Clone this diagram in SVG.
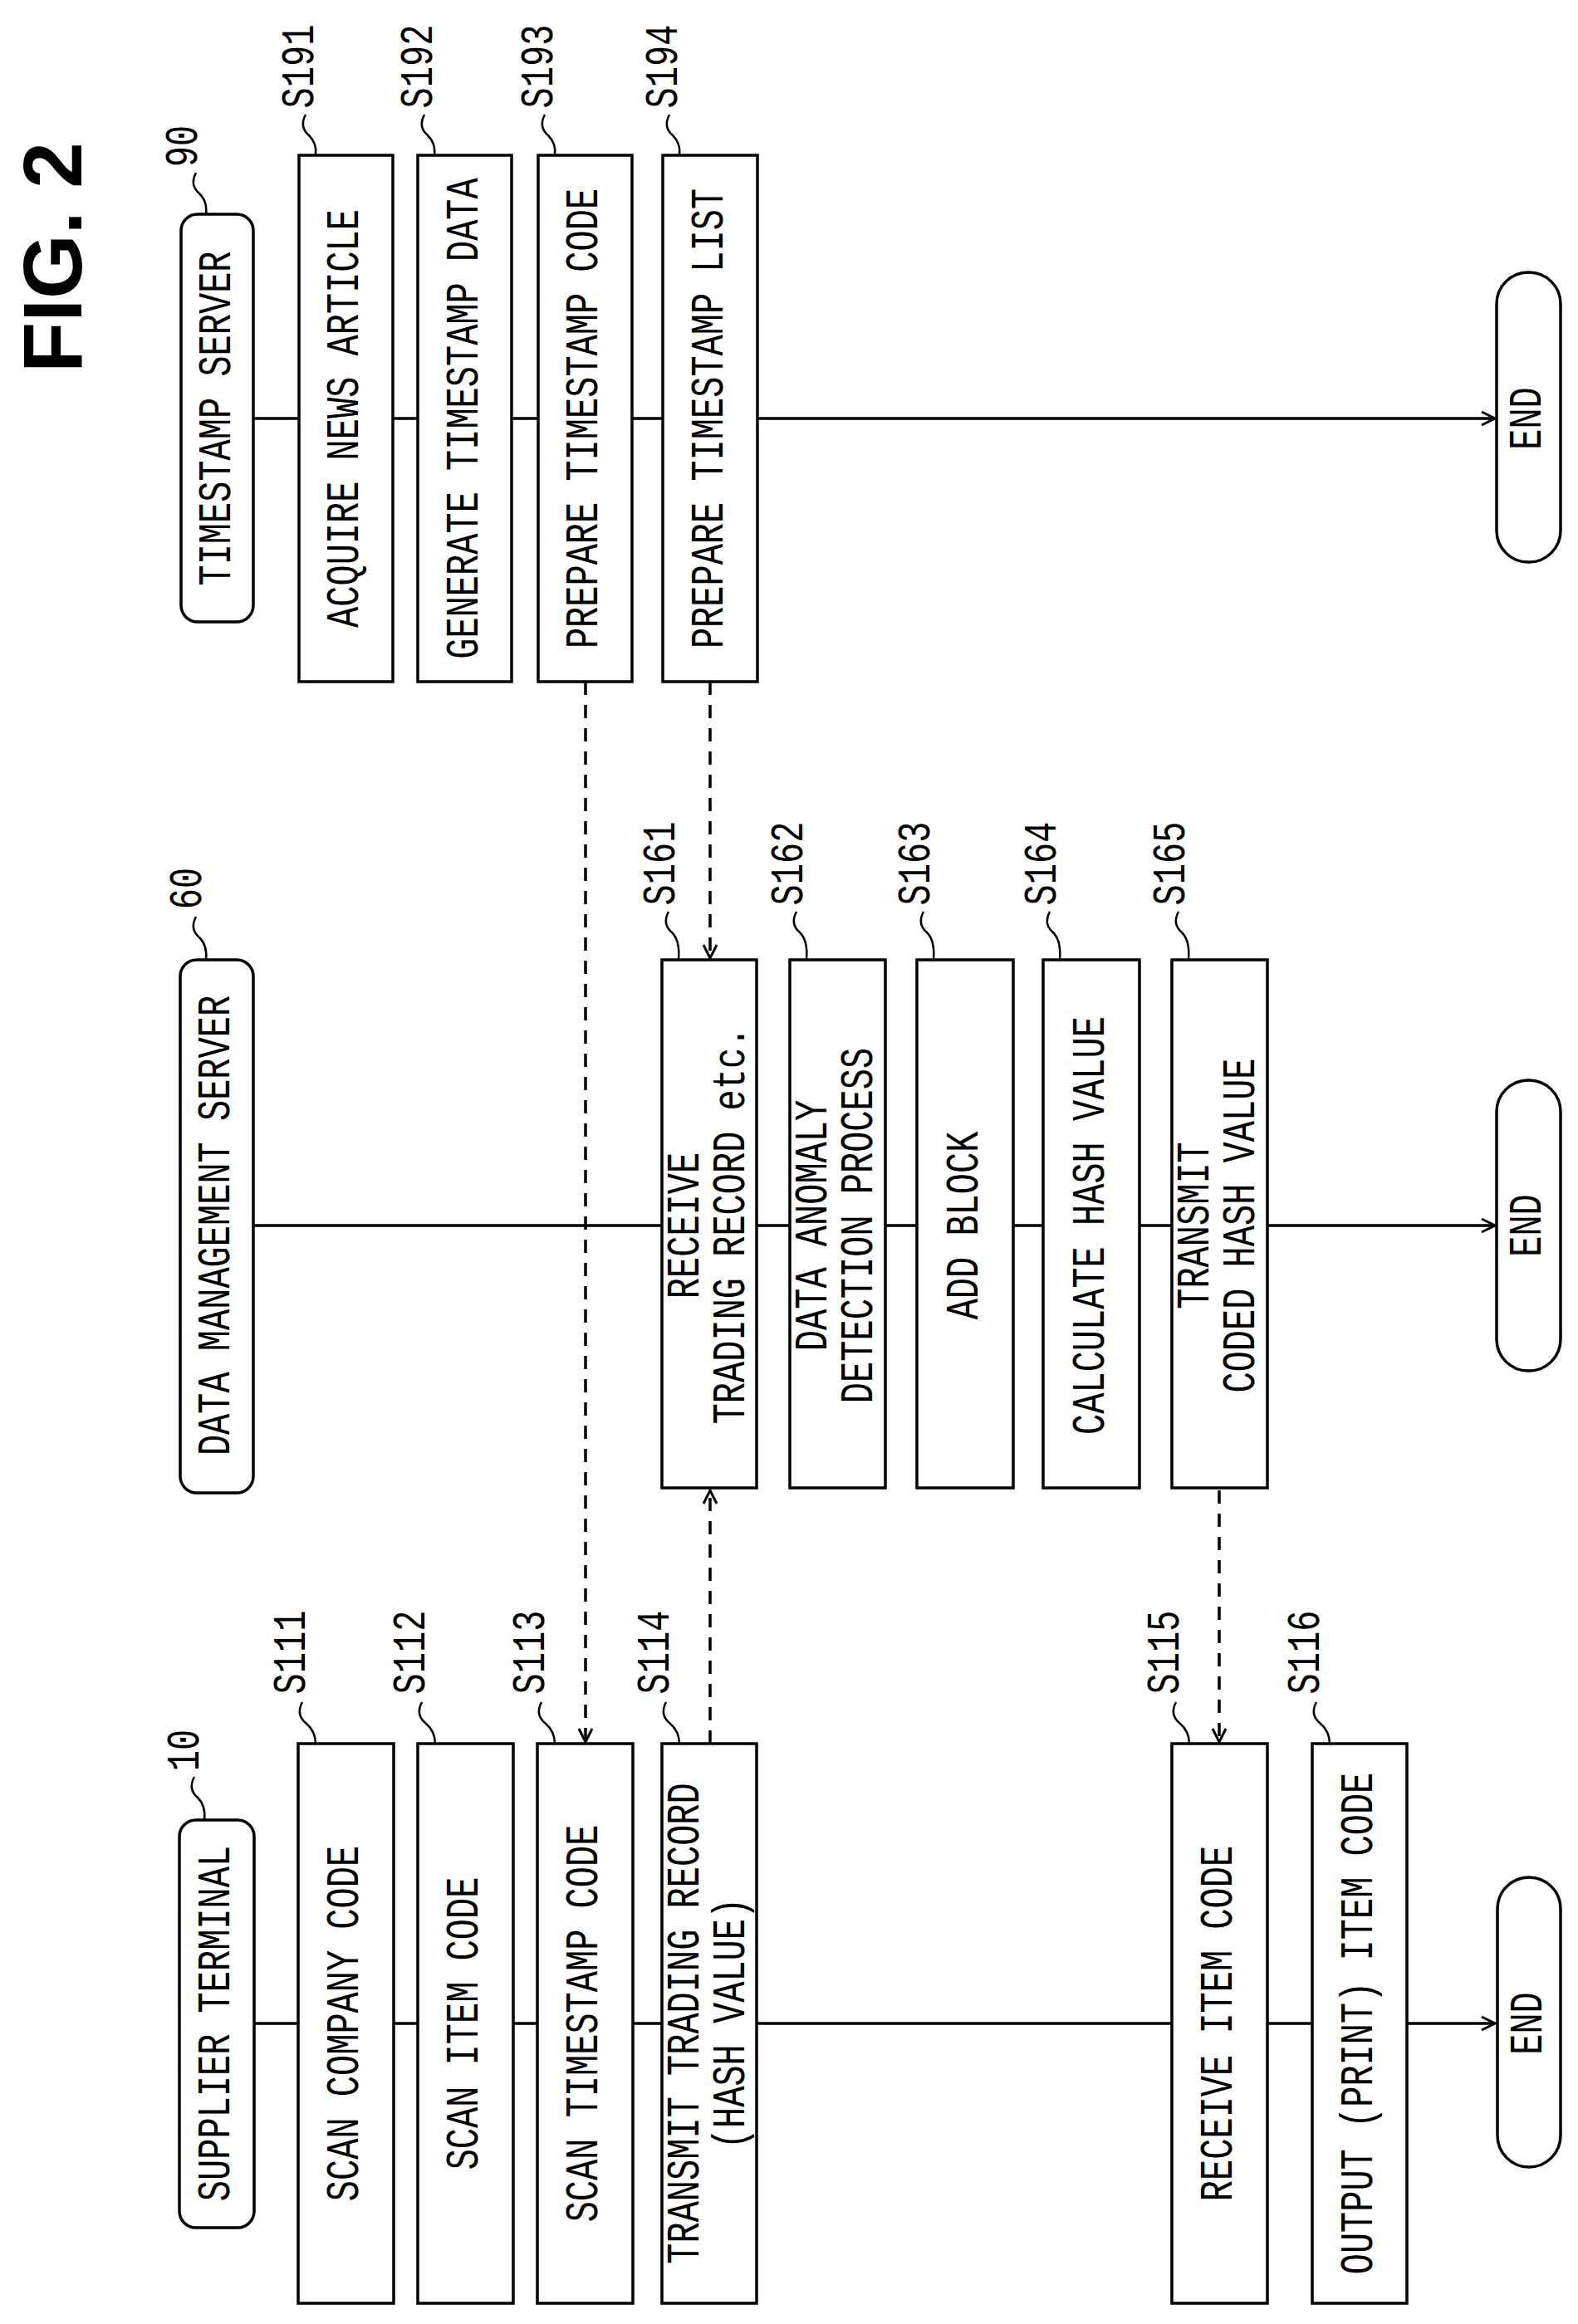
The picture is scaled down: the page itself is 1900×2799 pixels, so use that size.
<svg xmlns="http://www.w3.org/2000/svg" width="1900" height="2799" viewBox="0 0 1900 2799">
<defs>
<style>
.b{fill:#fff;stroke:#000;stroke-width:3.5}
.t{font-family:"Liberation Mono","DejaVu Sans Mono",monospace;font-size:42px;text-anchor:middle;dominant-baseline:central;fill:#000}
.l{fill:none;stroke:#000;stroke-width:3.5}
.d{fill:none;stroke:#000;stroke-width:3.5;stroke-dasharray:16 12}
.q{fill:none;stroke:#000;stroke-width:2.5}
</style>
<marker id="a" viewBox="0 0 20 20" refX="18" refY="10" markerWidth="20" markerHeight="20" markerUnits="userSpaceOnUse" orient="auto"><path d="M2,2 L18,10 L2,18" fill="none" stroke="#000" stroke-width="3"/></marker>
</defs>
<rect width="1900" height="2799" fill="#fff"/>
<text transform="translate(63,310) rotate(-90)" font-family="Liberation Sans,Arial,sans-serif" font-weight="bold" font-size="100" text-anchor="middle" dominant-baseline="central">FIG. 2</text>

<g id="connectors">
<line class="l" x1="305" y1="504" x2="1800" y2="504" marker-end="url(#a)"/>
<line class="l" x1="305" y1="1476" x2="1800" y2="1476" marker-end="url(#a)"/>
<line class="l" x1="305" y1="2437" x2="1800" y2="2437" marker-end="url(#a)"/>
<line class="d" x1="705" y1="821" x2="705" y2="2098" marker-end="url(#a)"/>
<line class="d" x1="855" y1="821" x2="855" y2="1154" marker-end="url(#a)"/>
<line class="d" x1="855" y1="2100" x2="855" y2="1795" marker-end="url(#a)"/>
<line class="d" x1="1468" y1="1795" x2="1468" y2="2098" marker-end="url(#a)"/>
</g>

<g id="timestamp-server">
<rect class="b" x="218" y="258" width="87" height="491" rx="20"/>
<text class="t" transform="translate(262,504) rotate(-90) scale(1,1.3)">TIMESTAMP SERVER</text>
<text class="t" transform="translate(222,176) rotate(-90) scale(1,1.3)">90</text>
<path class="q" d="M236,208 q-8,15 4,25 q10,10 8,25"/>
</g>
<g id="S191"><rect class="b" x="360" y="187" width="113" height="634"/><text class="t" transform="translate(416,504) rotate(-90) scale(1,1.3)">ACQUIRE NEWS ARTICLE</text><text class="t" transform="translate(362,80) rotate(-90) scale(1,1.3)">S191</text><path class="q" d="M368,138 q-8,15 4,25 q10,10 8,24"/></g>
<g id="S192"><rect class="b" x="503" y="187" width="113" height="634"/><text class="t" transform="translate(560,504) rotate(-90) scale(1,1.3)">GENERATE TIMESTAMP DATA</text><text class="t" transform="translate(505,80) rotate(-90) scale(1,1.3)">S192</text><path class="q" d="M511,138 q-8,15 4,25 q10,10 8,24"/></g>
<g id="S193"><rect class="b" x="648" y="187" width="113" height="634"/><text class="t" transform="translate(704,504) rotate(-90) scale(1,1.3)">PREPARE TIMESTAMP CODE</text><text class="t" transform="translate(650,80) rotate(-90) scale(1,1.3)">S193</text><path class="q" d="M656,138 q-8,15 4,25 q10,10 8,24"/></g>
<g id="S194"><rect class="b" x="798" y="187" width="114" height="634"/><text class="t" transform="translate(855,504) rotate(-90) scale(1,1.3)">PREPARE TIMESTAMP LIST</text><text class="t" transform="translate(800,80) rotate(-90) scale(1,1.3)">S194</text><path class="q" d="M806,138 q-8,15 4,25 q10,10 8,24"/></g>
<g id="end-ts"><rect class="b" x="1802" y="328" width="77" height="349" rx="38"/><text class="t" transform="translate(1840,504) rotate(-90) scale(1,1.3)">END</text></g>

<g id="data-management-server">
<rect class="b" x="217" y="1156" width="88" height="642" rx="20"/>
<text class="t" transform="translate(261,1476) rotate(-90) scale(1,1.3)">DATA MANAGEMENT SERVER</text>
<text class="t" transform="translate(227,1070) rotate(-90) scale(1,1.3)">60</text>
<path class="q" d="M236,1104 q-8,15 4,25 q10,10 8,27"/>
</g>
<g id="S161"><rect class="b" x="797" y="1156" width="114" height="636"/><text class="t" transform="translate(854,1476) rotate(-90) scale(1,1.3)"><tspan x="0" dy="-21">RECEIVE</tspan><tspan x="0" dy="42">TRADING RECORD etc.</tspan></text><text class="t" transform="translate(797,1040) rotate(-90) scale(1,1.3)">S161</text><path class="q" d="M805,1098 q-8,15 4,25 q10,10 8,33"/></g>
<g id="S162"><rect class="b" x="951" y="1156" width="115" height="636"/><text class="t" transform="translate(1008,1476) rotate(-90) scale(1,1.3)"><tspan x="0" dy="-21">DATA ANOMALY</tspan><tspan x="0" dy="42">DETECTION PROCESS</tspan></text><text class="t" transform="translate(951,1040) rotate(-90) scale(1,1.3)">S162</text><path class="q" d="M959,1098 q-8,15 4,25 q10,10 8,33"/></g>
<g id="S163"><rect class="b" x="1104" y="1156" width="116" height="636"/><text class="t" transform="translate(1162,1476) rotate(-90) scale(1,1.3)">ADD BLOCK</text><text class="t" transform="translate(1104,1040) rotate(-90) scale(1,1.3)">S163</text><path class="q" d="M1112,1098 q-8,15 4,25 q10,10 8,33"/></g>
<g id="S164"><rect class="b" x="1256" y="1156" width="116" height="636"/><text class="t" transform="translate(1314,1476) rotate(-90) scale(1,1.3)">CALCULATE HASH VALUE</text><text class="t" transform="translate(1256,1040) rotate(-90) scale(1,1.3)">S164</text><path class="q" d="M1264,1098 q-8,15 4,25 q10,10 8,33"/></g>
<g id="S165"><rect class="b" x="1411" y="1156" width="115" height="636"/><text class="t" transform="translate(1468,1476) rotate(-90) scale(1,1.3)"><tspan x="0" dy="-21">TRANSMIT</tspan><tspan x="0" dy="42">CODED HASH VALUE</tspan></text><text class="t" transform="translate(1411,1040) rotate(-90) scale(1,1.3)">S165</text><path class="q" d="M1419,1098 q-8,15 4,25 q10,10 8,33"/></g>
<g id="end-dm"><rect class="b" x="1802" y="1301" width="77" height="350" rx="38"/><text class="t" transform="translate(1840,1476) rotate(-90) scale(1,1.3)">END</text></g>

<g id="supplier-terminal">
<rect class="b" x="216" y="2192" width="90" height="491" rx="20"/>
<text class="t" transform="translate(261,2437) rotate(-90) scale(1,1.3)">SUPPLIER TERMINAL</text>
<text class="t" transform="translate(224,2108) rotate(-90) scale(1,1.3)">10</text>
<path class="q" d="M234,2140 q-8,15 4,25 q10,10 8,27"/>
</g>
<g id="S111"><rect class="b" x="359" y="2100" width="115" height="674"/><text class="t" transform="translate(416,2437) rotate(-90) scale(1,1.3)">SCAN COMPANY CODE</text><text class="t" transform="translate(352,1990) rotate(-90) scale(1,1.3)">S111</text><path class="q" d="M364,2050 q-8,15 4,25 q12,10 12,25"/></g>
<g id="S112"><rect class="b" x="503" y="2100" width="115" height="674"/><text class="t" transform="translate(560,2437) rotate(-90) scale(1,1.3)">SCAN ITEM CODE</text><text class="t" transform="translate(496,1990) rotate(-90) scale(1,1.3)">S112</text><path class="q" d="M508,2050 q-8,15 4,25 q12,10 12,25"/></g>
<g id="S113"><rect class="b" x="647" y="2100" width="115" height="674"/><text class="t" transform="translate(704,2437) rotate(-90) scale(1,1.3)">SCAN TIMESTAMP CODE</text><text class="t" transform="translate(640,1990) rotate(-90) scale(1,1.3)">S113</text><path class="q" d="M652,2050 q-8,15 4,25 q12,10 12,25"/></g>
<g id="S114"><rect class="b" x="797" y="2100" width="114" height="674"/><text class="t" transform="translate(854,2437) rotate(-90) scale(1,1.3)"><tspan x="0" dy="-21">TRANSMIT TRADING RECORD</tspan><tspan x="0" dy="42">(HASH VALUE)</tspan></text><text class="t" transform="translate(790,1990) rotate(-90) scale(1,1.3)">S114</text><path class="q" d="M802,2050 q-8,15 4,25 q12,10 12,25"/></g>
<g id="S115"><rect class="b" x="1411" y="2100" width="115" height="674"/><text class="t" transform="translate(1468,2437) rotate(-90) scale(1,1.3)">RECEIVE ITEM CODE</text><text class="t" transform="translate(1404,1990) rotate(-90) scale(1,1.3)">S115</text><path class="q" d="M1416,2050 q-8,15 4,25 q12,10 12,25"/></g>
<g id="S116"><rect class="b" x="1580" y="2100" width="114" height="674"/><text class="t" transform="translate(1637,2437) rotate(-90) scale(1,1.3)">OUTPUT (PRINT) ITEM CODE</text><text class="t" transform="translate(1573,1990) rotate(-90) scale(1,1.3)">S116</text><path class="q" d="M1585,2050 q-8,15 4,25 q12,10 12,25"/></g>
<g id="end-sup"><rect class="b" x="1803" y="2261" width="76" height="349" rx="38"/><text class="t" transform="translate(1841,2437) rotate(-90) scale(1,1.3)">END</text></g>
</svg>
